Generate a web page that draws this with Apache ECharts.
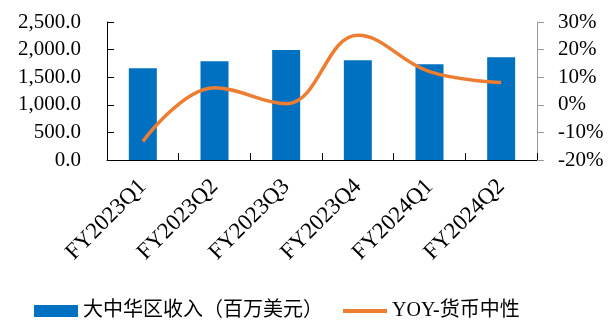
<!DOCTYPE html>
<html><head><meta charset="utf-8">
<script src="https://cdn.jsdelivr.net/npm/echarts@6/dist/echarts.min.js"></script>
<style>html,body{margin:0;padding:0;background:#fff}#c{width:616px;height:320px}</style>
</head><body><div id="c"></div>
<script>
const categories = ['FY2023Q1','FY2023Q2','FY2023Q3','FY2023Q4','FY2024Q1','FY2024Q2'];
const revenue = [1663, 1790, 1994, 1808, 1735, 1862];
const yoy = [-13.3, 6.2, 0.4, 25.2, 12.0, 8.1];
const seriesNames = ['大中华区收入（百万美元）', 'YOY-货币中性'];
const serif = '"Liberation Serif", "Noto Sans CJK SC", serif';
const chart = echarts.init(document.getElementById('c'), null, {renderer:'canvas'});
chart.setOption({
  animation: false,
  textStyle: {fontFamily: serif},
  grid: {left: 107, right: 79, top: 22, bottom: 160, containLabel: false},
  legend: {
    top: 296, left: 29, itemGap: 18, itemWidth: 44, itemHeight: 12,
    textStyle: {fontFamily: serif, fontSize: 20, color: '#000'},
    data: [
      {name: seriesNames[0], icon: 'rect'},
      {name: seriesNames[1], itemStyle: {opacity: 0}, lineStyle: {width: 4, color: '#ED7D31'}}
    ]
  },
  xAxis: {
    type: 'category', data: categories,
    axisLine: {lineStyle: {color: '#000', width: 1}},
    axisTick: {show: true, inside: true, length: 7, lineStyle: {color: '#000'}},
    axisLabel: {rotate: 45, fontSize: 23, color: '#000', fontFamily: serif, margin: 23, interval: 0}
  },
  yAxis: [{
    type: 'value', min: 0, max: 2500, interval: 500,
    axisLine: {show: true, lineStyle: {color: '#000'}},
    axisTick: {show: true, inside: true, length: 7, lineStyle: {color: '#000'}},
    splitLine: {show: false},
    axisLabel: {fontSize: 21, color: '#000', fontFamily: serif, margin: 26, formatter: v => v.toLocaleString('en-US', {minimumFractionDigits:1, maximumFractionDigits:1})}
  }, {
    type: 'value', min: -20, max: 30, interval: 10,
    axisLine: {show: true, lineStyle: {color: '#999'}},
    axisTick: {show: true, inside: false, length: 7, lineStyle: {color: '#999'}},
    splitLine: {show: false},
    axisLabel: {fontSize: 21, color: '#000', fontFamily: serif, margin: 21, formatter: v => v + '%'}
  }],
  series: [{
    name: seriesNames[0], type: 'bar', data: revenue, barWidth: 28, yAxisIndex: 0,
    itemStyle: {color: '#0070C0'}
  }, {
    name: seriesNames[1], type: 'line', data: yoy, yAxisIndex: 1, smooth: 0.4,
    showSymbol: false, symbol: 'none',
    lineStyle: {color: '#ED7D31', width: 3.5}, itemStyle: {color: '#ED7D31'}
  }]
});
</script></body></html>
